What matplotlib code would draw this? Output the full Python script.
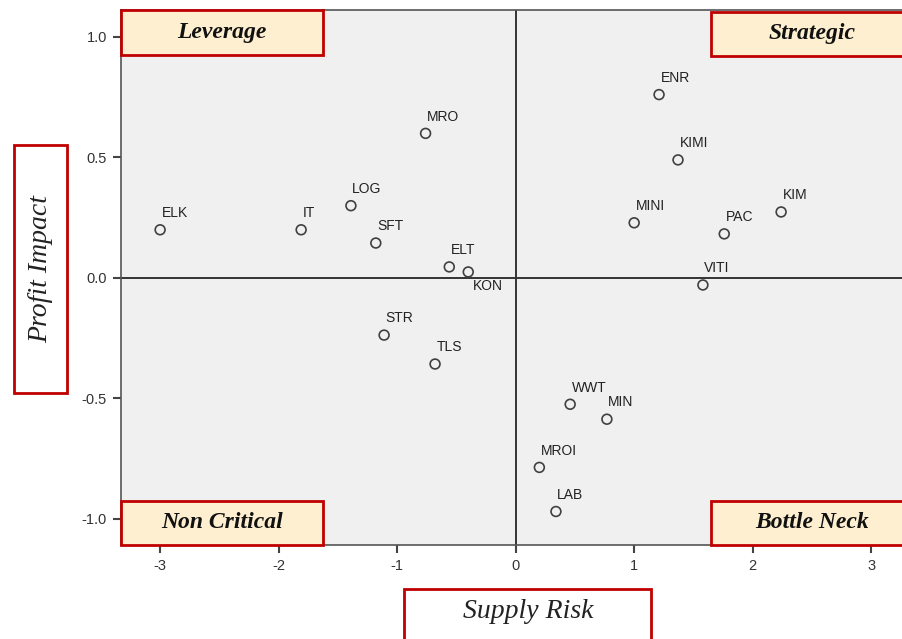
import numpy as np
import matplotlib
matplotlib.use("Agg")
import matplotlib.pyplot as plt
from matplotlib.patches import Rectangle

# category scores
labels = ['ELK', 'IT', 'LOG', 'SFT', 'MRO', 'ELT', 'KON', 'STR', 'TLS',
          'ENR', 'KIMI', 'MINI', 'PAC', 'KIM', 'VITI',
          'WWT', 'MIN', 'MROI', 'LAB']
supply_risk = [-3.00, -1.81, -1.39, -1.18, -0.76, -0.56, -0.40, -1.11, -0.68,
               1.21, 1.37, 1.00, 1.76, 2.24, 1.58,
               0.46, 0.77, 0.20, 0.34]
profit_impact = [0.20, 0.20, 0.30, 0.145, 0.60, 0.046, 0.025, -0.237, -0.357,
                 0.761, 0.49, 0.229, 0.183, 0.274, -0.029,
                 -0.524, -0.586, -0.786, -0.969]

x_ticks = [-3, -2, -1, 0, 1, 2, 3]
y_ticks = [-1.0, -0.5, 0.0, 0.5, 1.0]

quadrants = ['Leverage', 'Strategic', 'Non Critical', 'Bottle Neck']

W, H = 902, 639
fig = plt.figure(figsize=(W / 100, H / 100), dpi=100)
ax = fig.add_axes([121 / W, 1 - 545 / H, 1 - 121 / W, (545 - 10) / H])

ax.set_facecolor('#f0f0f0')
ax.set_xlim(-3.33, 3.26)
ax.set_ylim(-1.108, 1.112)

ax.axhline(0, color='#333333', lw=1.4, zorder=1)
ax.axvline(0, color='#333333', lw=1.4, zorder=1)

ax.scatter(supply_risk, profit_impact, s=50, facecolors='none',
           edgecolors='#404040', linewidths=1.2, zorder=3)

for name, x, y in zip(labels, supply_risk, profit_impact):
    if name == 'KON':
        ax.annotate(name, (x, y), xytext=(3, -5), textcoords='offset points',
                    ha='left', va='top', fontsize=10, family='Liberation Sans',
                    color='#222222')
    else:
        ax.annotate(name, (x, y), xytext=(1, 7), textcoords='offset points',
                    ha='left', va='bottom', fontsize=10, family='Liberation Sans',
                    color='#222222')

ax.set_xticks(x_ticks)
ax.set_xticklabels([str(t) for t in x_ticks])
ax.set_yticks(y_ticks)
ax.set_yticklabels([f'{t:.1f}' for t in y_ticks])
ax.tick_params(direction='out', length=6, width=1.5, color='#444444',
               labelsize=10.5, labelcolor='#333333', pad=4)
for lab in ax.get_xticklabels() + ax.get_yticklabels():
    lab.set_family('Liberation Sans')

for side in ['top', 'left', 'bottom']:
    ax.spines[side].set_color('#555555')
    ax.spines[side].set_linewidth(1.2)
ax.spines['right'].set_visible(False)

# quadrant boxes (pixel positions in figure)
box_px = [(121, 10, 323, 55), (711, 12, 906, 56),
          (121, 501, 323, 545), (711, 501, 906, 545)]
for name, (x0, y0, x1, y1) in zip(quadrants, box_px):
    fig.patches.append(Rectangle((x0 / W, 1 - y1 / H), (x1 - x0) / W, (y1 - y0) / H,
                                 transform=fig.transFigure, facecolor='#fdefcf',
                                 edgecolor='#c00000', lw=2, zorder=5))
    cx = (x0 + min(x1, 902)) / 2 + (0 if x1 < 900 else 6)
    fig.text(cx / W, 1 - (y0 + y1) / 2 / H, name, ha='center', va='center',
             family='Liberation Serif', style='italic', weight='bold',
             fontsize=17, color='#111111', zorder=6)

# axis title boxes
fig.patches.append(Rectangle((14 / W, 1 - 393 / H), 53 / W, 248 / H,
                             transform=fig.transFigure, facecolor='white',
                             edgecolor='#c00000', lw=2))
fig.text(41 / W, 1 - 269 / H, 'Profit Impact', rotation=90, ha='center', va='center',
         family='Liberation Serif', style='italic', fontsize=20, color='#222222')

fig.patches.append(Rectangle((404 / W, 1 - 650 / H), 247 / W, 61 / H,
                             transform=fig.transFigure, facecolor='white',
                             edgecolor='#c00000', lw=2))
fig.text(528 / W, 1 - 612 / H, 'Supply Risk', ha='center', va='center',
         family='Liberation Serif', style='italic', fontsize=20, color='#222222')

fig.savefig('out.png', dpi=100)
